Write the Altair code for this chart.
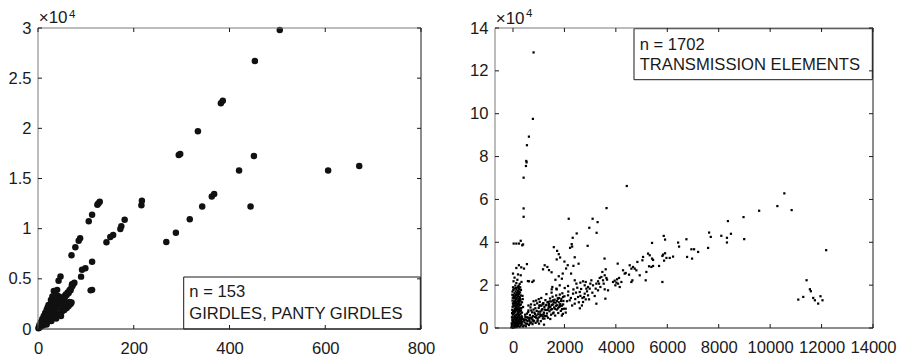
import altair as alt
import pandas as pd

FONT = "Liberation Sans"
INK = "#1a1a1a"
FRAME_LIGHT = "#7a7a7a"
FS = 16.6

# ---------------- LEFT PANEL: GIRDLES, PANTY GIRDLES (x, y) ----------------
left_outer = [(505, 29800), (453, 26700), (382, 22500), (386, 22750), (334, 19700),
              (294, 17350), (297, 17450), (451, 17250), (420, 15800), (606, 15800),
              (671, 16250), (444, 12200), (368, 13450), (363, 13200), (343, 12200),
              (317, 10930), (288, 9600), (268, 8670), (217, 12790), (216, 12325),
              (181, 10900), (174, 10250), (172, 9970), (157, 9370), (151, 9170),
              (143, 8640), (129, 12690), (126, 12500), (124, 12380), (113, 11390),
              (106, 10750), (88, 9040), (85, 8800), (78, 8140), (70, 7350),
              (113, 6700), (99, 6050), (92, 5900), (90, 5220), (113, 3900),
              (110, 3850), (47, 5230), (43, 4820), (33, 3790)]
left_streak = [(1, 80), (2, 200), (3, 150), (4, 320), (5, 250), (6, 450), (7, 380),
               (8, 550), (9, 480), (10, 700), (11, 600), (12, 850), (14, 750),
               (15, 1000), (16, 900), (18, 1150), (19, 1050), (21, 1350), (22, 1200),
               (24, 1500), (25, 1400), (27, 1700), (29, 1600), (30, 1900), (32, 1800),
               (34, 2100), (36, 2000), (38, 2350), (40, 2250), (42, 2550), (44, 2450),
               (46, 2800), (48, 2700), (50, 3000), (52, 2950), (54, 3250), (56, 3150),
               (58, 3450), (60, 3400), (62, 3650), (64, 3600), (66, 3900), (68, 3850),
               (70, 4150), (72, 4300), (74, 4500), (76, 4600), (71, 4450)]
left_upper = [(3, 400), (6, 700), (9, 1000), (12, 1300), (15, 1600), (18, 1900),
              (20, 2150), (22, 2400), (25, 2000), (8, 750), (14, 1150), (19, 1550),
              (24, 1900), (28, 2250), (31, 2600), (35, 2800), (38, 3050), (42, 3300),
              (27, 2900), (30, 3250), (36, 3500), (40, 3900)]
left_lower = [(10, 350), (15, 500), (20, 700), (25, 900), (30, 1100), (35, 1250),
              (40, 1400), (45, 1550), (50, 1750), (55, 1900), (60, 2100), (64, 2300),
              (68, 2500), (70, 2650), (66, 2700), (18, 450), (28, 800), (38, 1050),
              (48, 1300), (52, 2300), (58, 2600), (45, 2150)]

left_x_ticks = [0, 200, 400, 600, 800]
left_y_ticks = [0, 5000, 10000, 15000, 20000, 25000, 30000]

# ---------------- RIGHT PANEL: TRANSMISSION ELEMENTS (x, y) ----------------
right_spike_top = [(800, 128600), (774, 97600), (619, 89300), (542, 85300), (516, 77950),
                   (529, 77300), (503, 75600), (413, 70150), (413, 55800), (413, 51900)]
right_upper = [(26, 39400), (130, 39400), (300, 40700), (390, 39000), (360, 38600),
               (234, 39400), (542, 29800), (580, 21900), (0, 25400), (129, 28000),
               (230, 29300), (322, 28300), (195, 25000), (300, 24600), (428, 27730),
               (622, 21800), (752, 21475), (804, 22099), (1232, 29266), (1336, 28487),
               (1168, 27396), (1530, 19139), (1505, 18048), (1587, 37730), (1716, 36000),
               (1780, 34450), (1832, 32900), (1700, 32000), (2128, 29300), (2064, 27750),
               (2258, 25400), (1780, 24160), (1935, 25400), (2283, 39130), (2219, 37420),
               (2300, 38000), (2477, 44120), (2322, 42100), (2903, 38350), (2167, 50980),
               (3096, 50980), (3290, 49420), (2967, 46770), (3251, 44430), (3638, 55970),
               (4425, 66260), (3560, 32400), (1400, 27000), (1500, 26000), (2000, 31000),
               (2400, 33000), (2350, 29000), (1650, 22500), (1900, 23000), (2550, 30000)]
right_far = [(8101, 43030), (8320, 39900), (8320, 42090), (8359, 49890), (8475, 43960),
             (8965, 51760), (8991, 41470), (9572, 54720), (10281, 56900), (10552, 62830),
             (10836, 55030), (12178, 36320), (11094, 13250), (11288, 14500), (11417, 22290),
             (11546, 18080), (11584, 17150), (11675, 14030), (11739, 12940), (11868, 11380),
             (11958, 14810), (12036, 12940)]
right_band = [(7626, 44532), (7691, 42507), (7587, 37366), (5862, 42974), (5914, 41260),
              (5408, 39702), (6420, 39858), (6458, 37989), (6744, 41416), (6938, 36743),
              (7042, 36743), (7198, 35497), (6770, 33159), (6964, 32380), (5836, 34250),
              (5914, 34873), (5810, 33626), (5966, 32692), (6095, 32692), (6225, 33315),
              (5875, 31446), (5680, 28953), (5810, 21474), (5252, 34717), (5317, 33938),
              (5408, 32380), (5447, 31757), (5291, 28797), (5382, 28485), (5447, 28953),
              (5058, 33159), (5032, 31601), (4837, 30822), (4798, 26927), (5187, 26148),
              (5161, 22253), (4928, 24590), (4669, 28485), (4733, 27706), (4604, 27706),
              (4539, 29264), (4383, 25681), (4279, 26927), (4344, 25369), (4513, 24901),
              (4604, 21474), (4643, 22253), (4072, 30043), (4124, 23344), (4046, 22720),
              (3955, 22097), (3890, 21474), (4020, 21162), (3981, 19916), (4150, 19136),
              (4085, 20695), (4215, 21474), (3696, 17579), (3605, 27395), (3475, 26148),
              (3436, 23811), (3566, 24590), (3631, 23344), (3501, 22253), (3657, 22565),
              (3527, 20695), (3372, 23344), (3307, 21786), (3346, 20695), (3398, 19136),
              (3242, 20695), (3216, 18358), (3307, 17579), (3566, 18046), (3592, 13684),
              (3242, 11346), (3177, 14931), (3047, 22253), (3008, 20695), (2982, 18358),
              (2918, 19136), (2853, 18358), (2827, 21474), (2788, 19916), (2879, 17112),
              (2788, 16021), (2918, 15242), (2827, 13372), (2762, 14463), (2956, 13372),
              (3086, 16488), (3112, 19916)]
right_mid = [(1686, 18360), (1816, 19918), (2011, 18672), (2140, 19606), (2400, 22255),
             (2465, 20697), (2620, 21164), (2724, 21787), (2594, 16802), (2335, 16023),
             (2140, 15244), (1946, 14465), (1751, 13686), (1557, 12907), (1362, 12128),
             (1168, 11349), (1038, 10570), (1427, 9791), (1816, 10570), (2205, 12907),
             (2530, 14465), (2724, 12128), (2400, 11349), (2050, 9000), (2100, 12500),
             (2150, 17000), (2250, 14000), (2300, 10500), (2350, 18000), (2420, 13500),
             (2450, 16500), (2500, 18800), (2560, 12000), (2620, 15000), (2650, 18200),
             (2700, 14000), (2680, 10500), (2600, 9200)]
right_spike = [(-60, 300), (-30, 900), (0, 150), (20, 600), (40, 1100), (60, 350), (80, 1500),
               (100, 800), (120, 2100), (140, 450), (160, 1300), (180, 2700), (200, 900),
               (220, 1900), (240, 3200), (260, 600), (280, 2400), (300, 1200), (320, 3600),
               (340, 1800), (360, 2900), (380, 700), (400, 4100), (-50, 2200), (-20, 3300),
               (10, 2600), (30, 4000), (50, 3000), (70, 4600), (90, 5300), (110, 3800),
               (130, 5800), (150, 4700), (170, 6400), (190, 5200), (210, 7000), (230, 6000),
               (250, 7600), (270, 5000), (290, 6600), (310, 8200), (330, 5600), (350, 7200),
               (-40, 5000), (-10, 6200), (0, 7400), (25, 8000), (45, 6800), (65, 8800),
               (85, 7600), (105, 9500), (125, 8300), (145, 10200), (165, 9000), (185, 10900),
               (205, 9700), (225, 11600), (245, 10400), (265, 12300), (285, 9200), (305, 11000),
               (-30, 8500), (-15, 9900), (15, 10800), (35, 11700), (55, 10100), (75, 12600),
               (95, 11300), (115, 13400), (135, 12100), (155, 14200), (175, 12900), (195, 15000),
               (215, 13700), (235, 15800), (255, 14400), (275, 16600), (295, 13200), (-20, 12800),
               (-10, 14100), (20, 15300), (40, 13800), (60, 16200), (80, 14800), (100, 17100),
               (120, 15600), (140, 18000), (160, 16500), (180, 18900), (200, 17300), (220, 19700),
               (240, 18200), (260, 20600), (-20, 17000), (0, 19000), (50, 18400), (90, 19800),
               (130, 21000), (280, 19000), (310, 17800), (330, 21500), (170, 22500), (60, 23500),
               (20, 21800), (370, 15000), (350, 12000), (390, 9800), (380, 13500)]
right_spike_fill = [(-45, 1500), (5, 1800), (55, 2000), (105, 2600), (155, 3000), (205, 3500),
                    (255, 4200), (305, 4500), (355, 5000), (-25, 4000), (25, 5000), (75, 5600),
                    (125, 6200), (175, 7600), (225, 8400), (275, 7800), (325, 9300), (-35, 7000),
                    (15, 6500), (55, 7800), (95, 8700), (135, 9300), (195, 8200), (235, 9000),
                    (275, 10800), (-5, 11500), (45, 12300), (85, 10500), (125, 11800), (165, 11200),
                    (205, 12600), (245, 13000), (-25, 15500), (30, 14600), (70, 14000), (110, 15200),
                    (150, 15800), (190, 16200), (230, 17000), (270, 14000), (10, 17800), (110, 18600),
                    (200, 19200), (300, 15200), (15, 3200), (35, 1800), (75, 2400), (95, 4300),
                    (115, 1300), (135, 3300), (155, 2200), (175, 4200), (195, 3000), (215, 2600),
                    (235, 4900), (255, 2200), (285, 3800), (315, 2700), (345, 4300)]
right_wedge = [(420, 1200), (450, 2600), (480, 5200), (500, 800), (520, 3800), (540, 6700),
               (560, 2000), (580, 4800), (600, 8200), (620, 1400), (640, 3300), (660, 6000),
               (680, 9600), (700, 2600), (720, 4400), (740, 7300), (760, 1800), (780, 5600),
               (800, 8600), (820, 3400), (840, 10800), (860, 6600), (880, 2400), (900, 4800),
               (920, 8000), (940, 11500), (960, 3600), (980, 6400), (1000, 9400), (1020, 5000),
               (1040, 12200), (1060, 7600), (1080, 3200), (1100, 10400), (1120, 6000),
               (1140, 8800), (1160, 4400), (1180, 11600), (1200, 7200), (1220, 9800),
               (1240, 5600), (1260, 13000), (1280, 8400), (1300, 10800), (1320, 6800),
               (1340, 12000), (1360, 4800), (1380, 9200), (1400, 11200), (1420, 7800),
               (1440, 13800), (1460, 10000), (1480, 6200), (1500, 12400), (1520, 8800),
               (1540, 14600), (1560, 11000), (1580, 7200), (1600, 9600), (1620, 13200),
               (1640, 5800), (1660, 11800), (1680, 15200), (1700, 8600), (1720, 10600),
               (1740, 13800), (1760, 7000), (1780, 12000), (1800, 9800), (1820, 15600),
               (1840, 11200), (1860, 8000), (1880, 13600), (1900, 10400), (1920, 16200),
               (1940, 6600), (1960, 12600), (1980, 9000), (2000, 14800), (1450, 4200),
               (1225, 4400), (1900, 5800), (2050, 7200), (700, 11000), (900, 12800),
               (1100, 14000), (1300, 15800), (600, 10500), (800, 12500), (1000, 13500),
               (1500, 16500), (1700, 18000), (1012, 2025), (1206, 1558)]
right_wedge_fill = [(430, 3500), (470, 6200), (510, 2000), (550, 5000), (590, 7400), (630, 4000),
                    (670, 2200), (710, 8200), (750, 5000), (790, 3000), (830, 7200), (870, 9200),
                    (910, 5800), (950, 3000), (990, 7600), (1030, 10400), (1070, 5600), (1110, 8200),
                    (1150, 11000), (1190, 6400), (1230, 8600), (1270, 10600), (1310, 5600),
                    (1350, 8400), (1390, 10200), (1430, 12400), (1470, 8600), (1510, 10800),
                    (1550, 6800), (1590, 12000), (1630, 9000), (1670, 10400), (1710, 12600),
                    (1750, 9200), (1790, 14000), (1830, 10200), (1870, 12600), (1910, 8800),
                    (1950, 11000), (460, 4000), (560, 3200), (660, 4800), (760, 3800), (860, 5200),
                    (960, 4500), (1060, 6400), (1160, 5400)]

right_x_ticks = [0, 2000, 4000, 6000, 8000, 10000, 12000, 14000]
right_y_ticks = [0, 20000, 40000, 60000, 80000, 100000, 120000, 140000]


def panel(points, xdom, ydom, xt, yt, w, h, point_mark, box, lines, exp_pos):
    df = pd.DataFrame(points, columns=["x", "y"])
    one = pd.DataFrame({"k": [0]})
    xs = alt.Scale(domain=xdom, nice=False, zero=False)
    ys = alt.Scale(domain=ydom, nice=False, zero=False)
    common = dict(title=None, grid=False, ticks=False, tickSize=0, domain=False,
                  labelFont=FONT, labelFontSize=FS, labelColor=INK, labelOverlap=False)
    x_axis = alt.Axis(values=xt, labelPadding=11, labelFlush=False, format="d", **common)
    y_axis = alt.Axis(values=yt, labelPadding=7, labelFlush=False,
                      labelExpr="'' + datum.value / 10000", **common)
    pts = point_mark(alt.Chart(df)).encode(
        x=alt.X("x:Q", scale=xs, axis=x_axis),
        y=alt.Y("y:Q", scale=ys, axis=y_axis),
    )
    bx0, bx1, by0, by1 = box
    rect = alt.Chart(one).mark_rect(fill="white", stroke=INK, strokeWidth=1).encode(
        x=alt.value(bx0), x2=alt.value(bx1), y=alt.value(by0), y2=alt.value(by1))
    texts = [alt.Chart(one).mark_text(text=t, align="left", baseline="alphabetic", font=FONT,
                                      fontSize=FS, color=INK).encode(x=alt.value(tx), y=alt.value(ty))
             for (t, tx, ty) in lines]
    frame = [
        alt.Chart(one).mark_rule(color=FRAME_LIGHT, strokeWidth=1).encode(
            x=alt.value(0), x2=alt.value(w), y=alt.value(0)),
        alt.Chart(one).mark_rule(color=FRAME_LIGHT, strokeWidth=1).encode(
            x=alt.value(0), y=alt.value(0), y2=alt.value(h)),
        alt.Chart(one).mark_rule(color=INK, strokeWidth=1).encode(
            x=alt.value(0), x2=alt.value(w), y=alt.value(h)),
        alt.Chart(one).mark_rule(color=INK, strokeWidth=1).encode(
            x=alt.value(w), y=alt.value(0), y2=alt.value(h)),
    ]
    xtd = pd.DataFrame({"x": xt})
    ytd = pd.DataFrame({"y": yt})
    ticks = [
        alt.Chart(xtd).mark_rule(color=INK).encode(
            x=alt.X("x:Q", scale=xs, axis=x_axis), y=alt.value(h), y2=alt.value(h - 4)),
        alt.Chart(xtd).mark_rule(color=INK).encode(
            x=alt.X("x:Q", scale=xs, axis=x_axis), y=alt.value(0), y2=alt.value(4)),
        alt.Chart(ytd).mark_rule(color=INK).encode(
            y=alt.Y("y:Q", scale=ys, axis=y_axis), x=alt.value(0), x2=alt.value(4)),
        alt.Chart(ytd).mark_rule(color=INK).encode(
            y=alt.Y("y:Q", scale=ys, axis=y_axis), x=alt.value(w), x2=alt.value(w - 4)),
    ]
    e_x, e_y, s_x, s_y = exp_pos
    expo = [
        alt.Chart(one).mark_text(text="×10", align="left", baseline="alphabetic", font=FONT,
                                 fontSize=17, color=INK).encode(x=alt.value(e_x), y=alt.value(e_y)),
        alt.Chart(one).mark_text(text="4", align="left", baseline="alphabetic", font=FONT,
                                 fontSize=11.5, color=INK).encode(x=alt.value(s_x), y=alt.value(s_y)),
    ]
    return alt.layer(pts, rect, *texts, *frame, *ticks, *expo).properties(width=w, height=h)


left_all = left_outer + left_streak + left_upper + left_lower
right_all = (right_spike_top + right_upper + right_far + right_band + right_mid
             + right_spike + right_spike_fill + right_wedge + right_wedge_fill)

W1, H1 = 383, 301
W2, H2 = 378, 300

left = panel(left_all, [0, 800], [0, 30000], left_x_ticks, left_y_ticks, W1, H1,
             lambda c: c.mark_circle(size=42, color="#111111", opacity=1),
             (145.7, 382.3, 249, H1),
             [("n = 153", 151.3, 269), ("GIRDLES, PANTY GIRDLES", 151.3, 290.7)],
             (0.7, -5, 31, -10))

right = panel(right_all, [-700, 14000], [0, 140000], right_x_ticks, right_y_ticks, W2, H2,
              lambda c: c.mark_square(size=5, color="#000000", opacity=1),
              (139, 377.3, 0.7, 51.7),
              [("n = 1702", 144.7, 22.4), ("TRANSMISSION ELEMENTS", 144.7, 42.4)],
              (0.7, -4.5, 31, -11))

chart = alt.hconcat(left, right, spacing=34).properties(
    padding={"left": 7, "top": 8, "right": 0, "bottom": 0},
    background="white",
).configure_view(stroke=None)

chart.save("out.html", embed_options={"renderer": "svg", "actions": False})
